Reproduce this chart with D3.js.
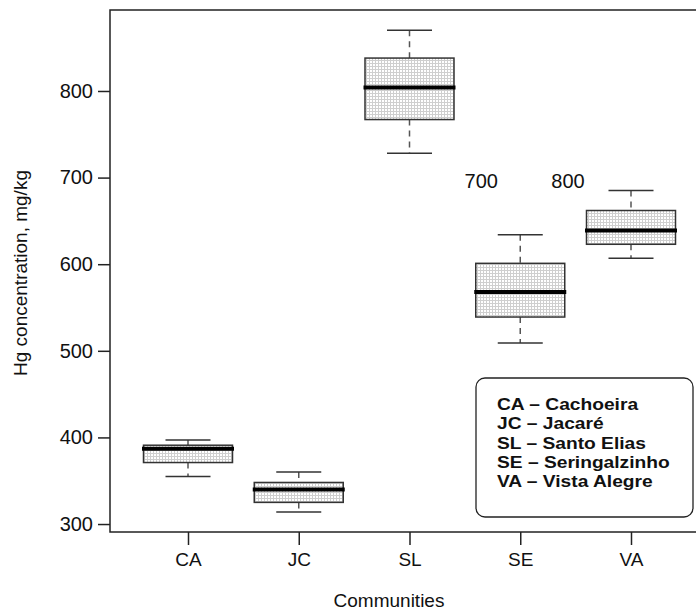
<!DOCTYPE html>
<html>
<head>
<meta charset="utf-8">
<script src="https://cdn.jsdelivr.net/npm/d3@7"></script>
<style>
  body { margin: 0; background: #fff; }
  text { font-family: "Liberation Sans", Arial, sans-serif; fill: #111; }
</style>
</head>
<body>
<svg width="696" height="612"></svg>
<script>
// data
const communities = ['CA', 'JC', 'SL', 'SE', 'VA']
const whiskLow  = [355, 314, 728, 509, 607]
const q1        = [371, 325, 767, 539, 623]
const medians   = [387, 340, 804, 568, 639]
const q3        = [391, 348, 838, 601, 662]
const whiskHigh = [397, 360, 870, 634, 685]
const yTicks = [300, 400, 500, 600, 700, 800]
const notes = [{ c: 'SE', text: '700', dx: -39 }, { c: 'VA', text: '800', dx: -63 }]
const legendLines = ['CA – Cachoeira', 'JC – Jacaré', 'SL – Santo Elias', 'SE – Seringalzinho', 'VA – Vista Alegre']

const data = communities.map((c, i) => ({
  c, lo: whiskLow[i], q1: q1[i], med: medians[i], q3: q3[i], hi: whiskHigh[i]
}))

const svg = d3.select('svg')
const plotL = 110, plotT = 10, plotB = 532

const y = d3.scaleLinear().domain([290.8, 893.5]).range([plotB, plotT])
const x = d3.scalePoint().domain(communities).range([188, 631])
const boxW = 89, capW = 45

// stipple fill
const pat = svg.append('defs').append('pattern')
  .attr('id', 'dots').attr('width', 3).attr('height', 3)
  .attr('patternUnits', 'userSpaceOnUse')
pat.append('rect').attr('width', 3).attr('height', 3).attr('fill', '#fff')
pat.append('rect').attr('width', 3).attr('height', 1).attr('fill', '#cfcfcf')
pat.append('rect').attr('width', 1).attr('height', 3).attr('fill', '#cfcfcf')

// frame
svg.append('rect')
  .attr('x', plotL).attr('y', plotT).attr('width', 600).attr('height', plotB - plotT)
  .attr('fill', 'none').attr('stroke', '#222').attr('stroke-width', 1.5)

// y axis
const yAxis = d3.axisLeft(y).tickValues(yTicks).tickSize(12).tickPadding(5)
const yG = svg.append('g').attr('transform', `translate(${plotL},0)`).call(yAxis)
yG.select('.domain').remove()
yG.selectAll('line').attr('stroke', '#222').attr('stroke-width', 1.5)
yG.selectAll('text').attr('font-size', 20).attr('font-family', null)

// x axis
const xAxis = d3.axisBottom(x).tickSize(13).tickPadding(8)
const xG = svg.append('g').attr('transform', `translate(0,${plotB})`).call(xAxis)
xG.select('.domain').remove()
xG.selectAll('line').attr('stroke', '#222').attr('stroke-width', 1.5)
xG.selectAll('text').attr('font-size', 19).attr('font-family', null)

// axis titles
svg.append('text').text('Communities')
  .attr('x', 389).attr('y', 607).attr('text-anchor', 'middle').attr('font-size', 19)
svg.append('text').text('Hg concentration, mg/kg')
  .attr('transform', 'translate(27,273) rotate(-90)')
  .attr('text-anchor', 'middle').attr('font-size', 19)

// boxes
const g = svg.selectAll('.bx').data(data).enter().append('g').attr('class', 'bx')

g.append('line')
  .attr('x1', d => x(d.c)).attr('x2', d => x(d.c))
  .attr('y1', d => y(d.hi)).attr('y2', d => y(d.q3))
  .attr('stroke', '#555').attr('stroke-width', 1.5).attr('stroke-dasharray', '6,5')
g.append('line')
  .attr('x1', d => x(d.c)).attr('x2', d => x(d.c))
  .attr('y1', d => y(d.q1)).attr('y2', d => y(d.lo))
  .attr('stroke', '#555').attr('stroke-width', 1.5).attr('stroke-dasharray', '6,5')

g.selectAll('.cap').data(d => [d.lo, d.hi].map(v => ({ c: d.c, v })))
  .enter().append('line')
  .attr('x1', d => x(d.c) - capW / 2).attr('x2', d => x(d.c) + capW / 2)
  .attr('y1', d => y(d.v)).attr('y2', d => y(d.v))
  .attr('stroke', '#333').attr('stroke-width', 1.5)

g.append('rect')
  .attr('x', d => x(d.c) - boxW / 2).attr('width', boxW)
  .attr('y', d => y(d.q3)).attr('height', d => y(d.q1) - y(d.q3))
  .attr('fill', 'url(#dots)').attr('stroke', '#333').attr('stroke-width', 1.5)

g.append('line')
  .attr('x1', d => x(d.c) - boxW / 2 - 1.5).attr('x2', d => x(d.c) + boxW / 2 + 1.5)
  .attr('y1', d => y(d.med)).attr('y2', d => y(d.med))
  .attr('stroke', '#000').attr('stroke-width', 4)

// notes above SE and VA
svg.selectAll('.note').data(notes).enter().append('text')
  .text(d => d.text)
  .attr('x', d => x(d.c) + d.dx).attr('y', 188)
  .attr('text-anchor', 'middle').attr('font-size', 20)

// legend
svg.append('rect')
  .attr('x', 476).attr('y', 378).attr('width', 217).attr('height', 139)
  .attr('rx', 9).attr('fill', '#fff').attr('stroke', '#222').attr('stroke-width', 1.3)

const lg = svg.append('g').attr('transform', 'translate(497,0) scale(1.2,1)')
lg.selectAll('text').data(legendLines).enter().append('text')
  .text(d => d)
  .attr('x', 0).attr('y', (d, i) => 410 + i * 19.3)
  .attr('font-size', 16).attr('font-weight', 'bold')
</script>
</body>
</html>
